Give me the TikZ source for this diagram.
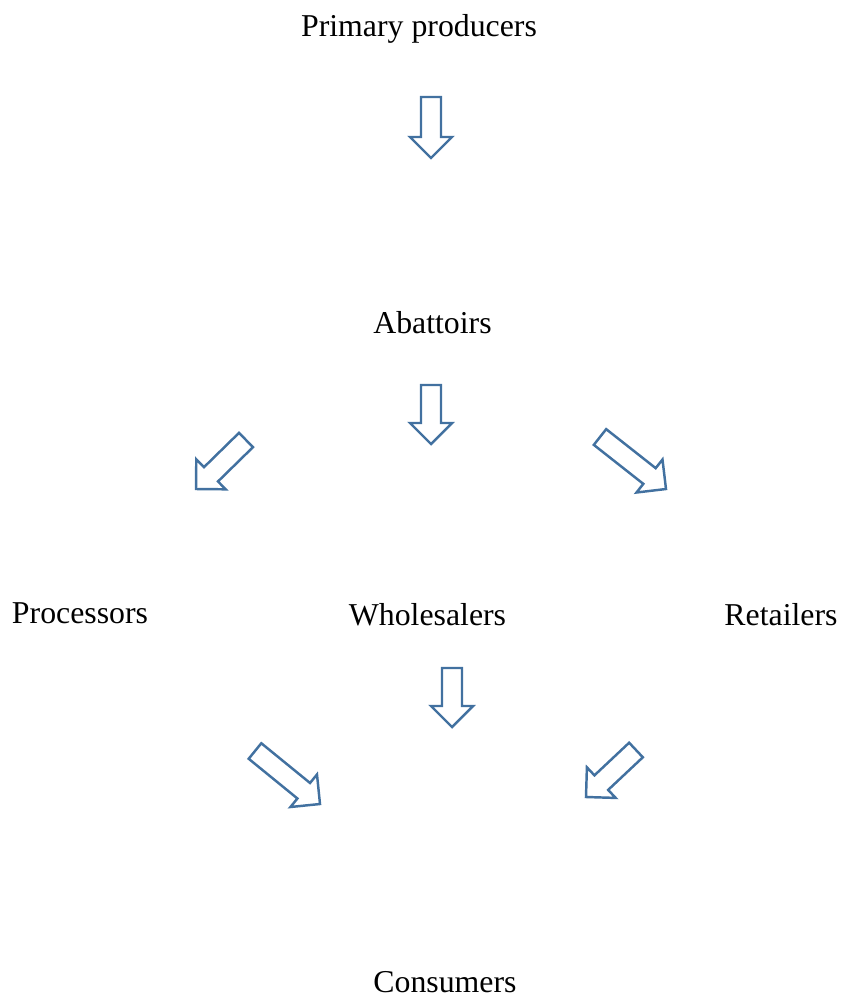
\documentclass[tikz,border=0pt]{standalone}
\usepackage{fontspec}
\setmainfont{Liberation Serif}
\usetikzlibrary{calc}

\definecolor{arrowblue}{RGB}{66,113,160}

\tikzset{
	stage/.style={anchor=base, inner sep=0pt, font=\fontsize{9.05}{11}\selectfont},
	blockarrow/.style={draw=arrowblue, line width=0.7pt, fill=white, line join=miter,
		to path={($(\tikztostart)!0.1cm!90:(\tikztotarget)$)
			-- ($(\tikztotarget)!0.21cm!(\tikztostart)!0.1cm!90:(\tikztotarget)$)
			-- ($(\tikztotarget)!0.21cm!(\tikztostart)!0.21cm!90:(\tikztotarget)$)
			-- (\tikztotarget)
			-- ($(\tikztotarget)!0.21cm!(\tikztostart)!0.21cm!-90:(\tikztotarget)$)
			-- ($(\tikztotarget)!0.21cm!(\tikztostart)!0.1cm!-90:(\tikztotarget)$)
			-- ($(\tikztostart)!0.1cm!-90:(\tikztotarget)$) -- cycle}}
}

\begin{document}
\begin{tikzpicture}

		\useasboundingbox (0,0) rectangle (8.43,-10.01);

		% stages of the chain
		\node[stage] (prim) at (4.19,-0.36) {Primary producers};
		\node[stage] (abat) at (4.325,-3.33) {Abattoirs};
		\node[stage] (proc) at (0.80,-6.235) {Processors};
		\node[stage] (whol) at (4.275,-6.25) {Wholesalers};
		\node[stage] (ret) at (7.81,-6.25) {Retailers};
		\node[stage] (cons) at (4.45,-9.92) {Consumers};

		% arrow ends
		\coordinate (a1s) at (4.31,-0.97); \coordinate (a1e) at (4.31,-1.58);
		\coordinate (a2s) at (4.31,-3.85); \coordinate (a2e) at (4.31,-4.44);
		\coordinate (a3s) at (2.46,-4.40); \coordinate (a3e) at (1.96,-4.89);
		\coordinate (a4s) at (6.00,-4.37); \coordinate (a4e) at (6.66,-4.89);
		\coordinate (a5s) at (4.52,-6.68); \coordinate (a5e) at (4.52,-7.27);
		\coordinate (a6s) at (2.55,-7.51); \coordinate (a6e) at (3.20,-8.04);
		\coordinate (a7s) at (6.36,-7.50); \coordinate (a7e) at (5.86,-7.97);

		\draw[blockarrow] (a1s) to (a1e);
		\draw[blockarrow] (a2s) to (a2e);
		\draw[blockarrow] (a3s) to (a3e);
		\draw[blockarrow] (a4s) to (a4e);
		\draw[blockarrow] (a5s) to (a5e);
		\draw[blockarrow] (a6s) to (a6e);
		\draw[blockarrow] (a7s) to (a7e);

\end{tikzpicture}
\end{document}
